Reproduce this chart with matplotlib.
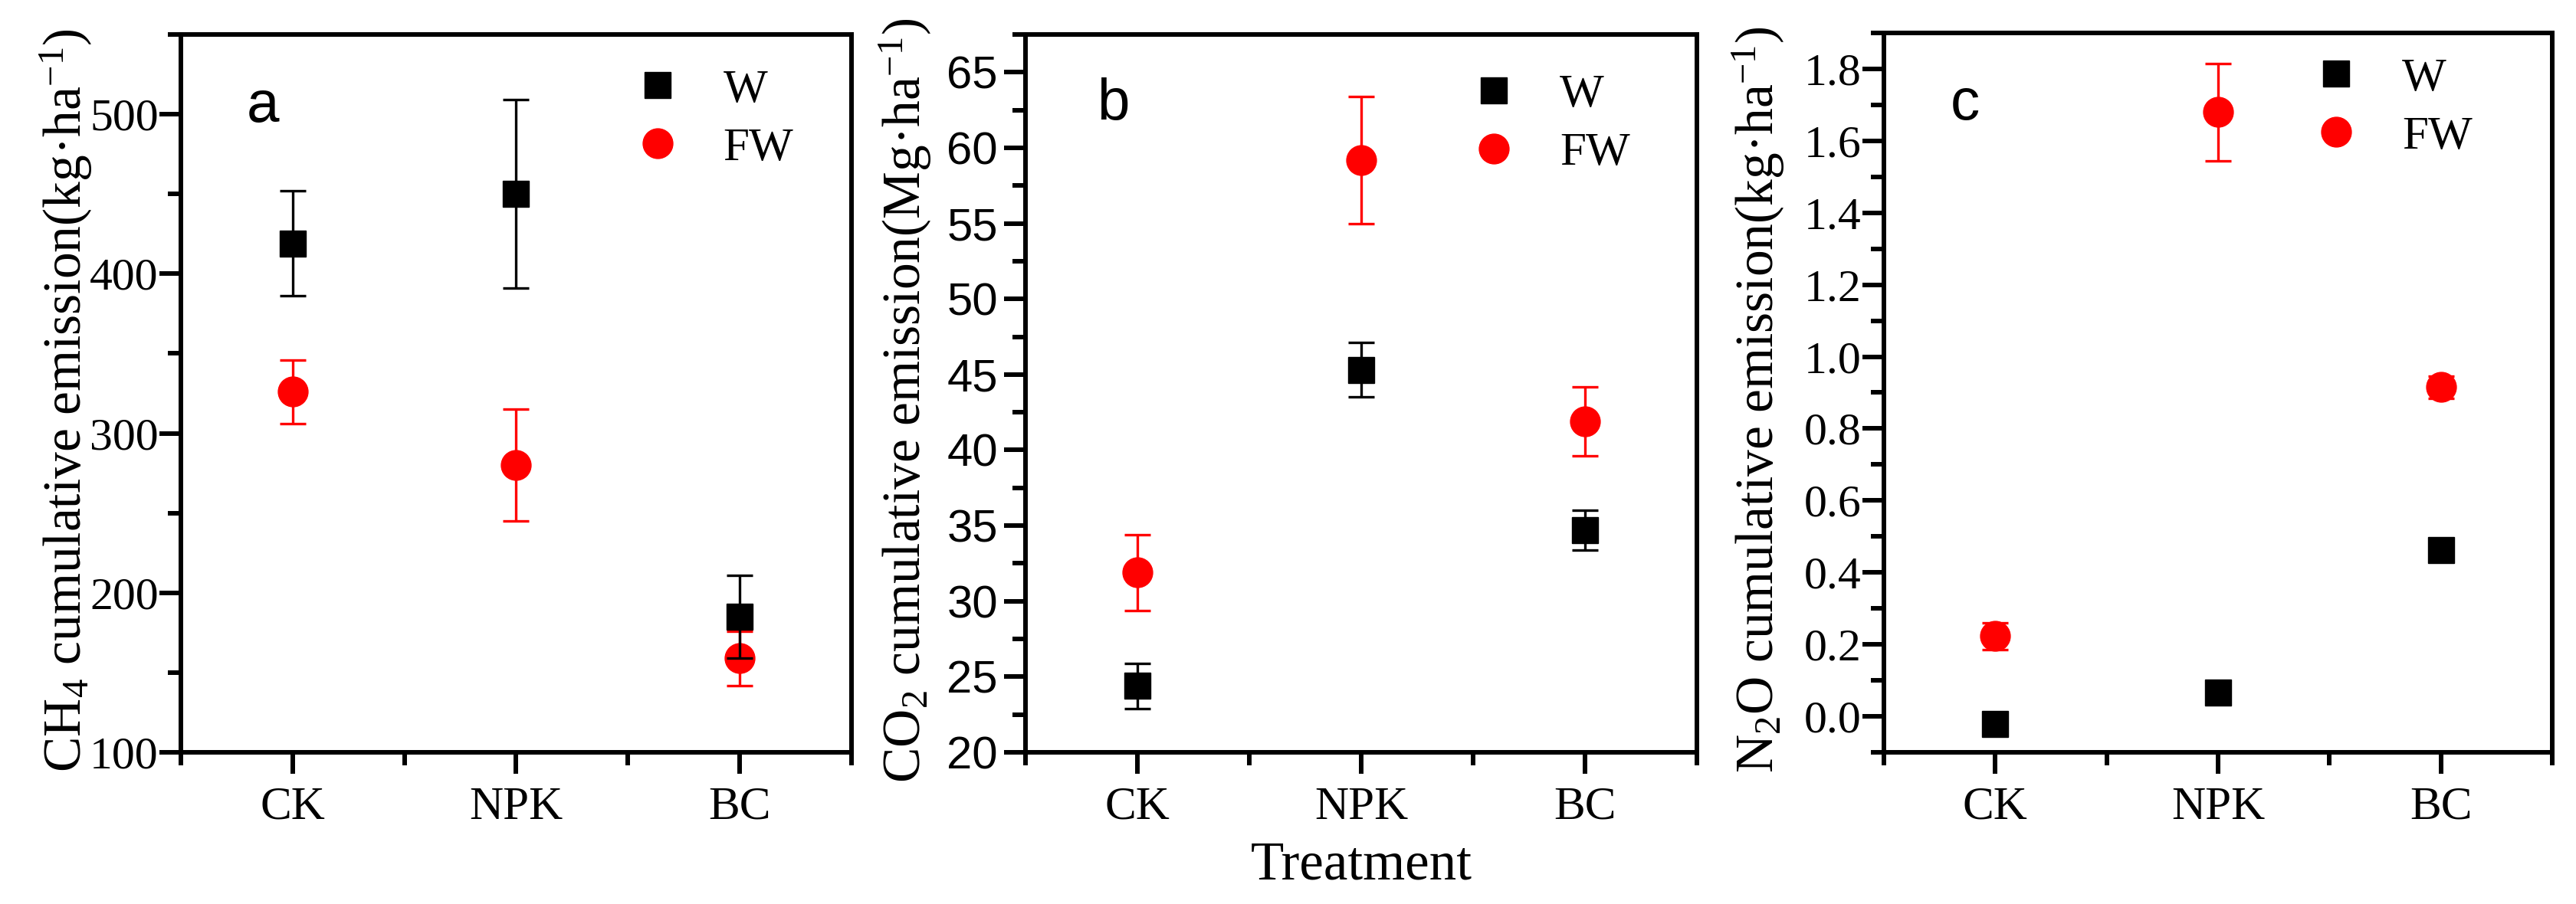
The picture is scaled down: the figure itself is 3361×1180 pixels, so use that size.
import matplotlib
matplotlib.use("Agg")
import matplotlib.pyplot as plt
from matplotlib.lines import Line2D
from matplotlib.ticker import MultipleLocator, FormatStrFormatter

# treatments on the x axis
treatments = ["CK", "NPK", "BC"]

# CH4 cumulative emission (kg ha-1)
ch4_w = [419, 450, 185]
ch4_w_err = [33, 59, 26]
ch4_fw = [326, 280, 159]
ch4_fw_err = [20, 35, 17]

# CO2 cumulative emission (Mg ha-1)
co2_w = [24.4, 45.3, 34.7]
co2_w_err = [1.5, 1.8, 1.3]
co2_fw = [31.9, 59.2, 41.9]
co2_fw_err = [2.5, 4.2, 2.3]

# N2O cumulative emission (kg ha-1)
n2o_w = [-0.021, 0.067, 0.462]
n2o_w_err = [0.01, 0.015, 0.02]
n2o_fw = [0.223, 1.68, 0.915]
n2o_fw_err = [0.038, 0.135, 0.03]

SERIF = "Liberation Serif"
SANS = "Liberation Sans"
RED = "#ff0000"
INK = "#000000"
LW = 4.3

plt.rcParams["font.family"] = [SERIF, "DejaVu Serif"]
plt.rcParams["mathtext.fontset"] = "custom"
plt.rcParams["mathtext.rm"] = SERIF
plt.rcParams["mathtext.it"] = SERIF + ":italic"
plt.rcParams["mathtext.bf"] = SERIF + ":bold"

fig = plt.figure(figsize=(33.62, 11.8), dpi=100)
W, H = 3362, 1180


def make_axes(left_px, right_px, top_px, bottom_px):
    return fig.add_axes([left_px / W, 1 - bottom_px / H,
                         (right_px - left_px) / W, (bottom_px - top_px) / H])


panels = [
    dict(ax=make_axes(236, 1111, 45, 982), w=ch4_w, we=ch4_w_err, fw=ch4_fw, fwe=ch4_fw_err,
         ylim=(100, 550), major=100, minor=50, fmt="%d", letter="a", letter_xy=(0.098, 0.878),
         ylabel="CH$_4$ cumulative emission(kg·ha$^{\\mathsf{-}1}$)", label_x=-0.129,
         leg=(0.676, 0.952), tickfont=SERIF, tickpad=1),
    dict(ax=make_axes(1338, 2214, 45, 982), w=co2_w, we=co2_w_err, fw=co2_fw, fwe=co2_fw_err,
         ylim=(20, 67.5), major=5, minor=2.5, fmt="%d", letter="b", letter_xy=(0.106, 0.882),
         ylabel="CO$_2$ cumulative emission(Mg·ha$^{\\mathsf{-}1}$)", label_x=-0.137,
         leg=(0.663, 0.945), tickfont=SANS, tickpad=6),
    dict(ax=make_axes(2458, 3330, 43, 982), w=n2o_w, we=n2o_w_err, fw=n2o_fw, fwe=n2o_fw_err,
         ylim=(-0.1, 1.9), major=0.2, minor=0.1, fmt="%.1f", letter="c", letter_xy=(0.099, 0.88),
         ylabel="N$_2$O cumulative emission(kg·ha$^{\\mathsf{-}1}$)", label_x=-0.146,
         leg=(0.642, 0.966), tickfont=SERIF, tickpad=1),
]
plt.rcParams["mathtext.sf"] = SERIF

x = [1, 2, 3]
for p in panels:
    ax = p["ax"]
    ax.errorbar(x, p["fw"], yerr=p["fwe"], fmt="o", ms=28, color=RED, ecolor=RED,
                elinewidth=2.4, capsize=12, capthick=2.4, zorder=2)
    ax.errorbar(x, p["w"], yerr=p["we"], fmt="s", ms=25, color=INK, ecolor=INK,
                elinewidth=2.4, capsize=12, capthick=2.4, zorder=3)

    ax.set_xlim(0.5, 3.5)
    ax.set_xticks(x)
    ax.set_xticklabels(treatments, fontsize=44, family=SERIF)
    ax.set_xticks([0.5, 1.5, 2.5, 3.5], minor=True)
    ax.set_ylim(*p["ylim"])
    ax.yaxis.set_major_locator(MultipleLocator(p["major"]))
    ax.yaxis.set_minor_locator(MultipleLocator(p["minor"]))
    ax.yaxis.set_major_formatter(FormatStrFormatter(p["fmt"]))

    for spine in ax.spines.values():
        spine.set_linewidth(LW)
    ax.tick_params(which="both", direction="out", width=LW, top=False, right=False)
    ax.tick_params(which="major", length=20)
    ax.tick_params(which="minor", length=12)
    ax.tick_params(axis="x", which="major", pad=12)
    ax.tick_params(axis="y", which="major", labelsize=43, pad=p["tickpad"])
    for lbl in ax.get_yticklabels():
        lbl.set_fontfamily(p["tickfont"])
        lbl.set_fontsize(43)

    ax.set_ylabel(p["ylabel"], fontsize=50)
    ax.yaxis.set_label_coords(p["label_x"], 0.49)

    ax.text(*p["letter_xy"], p["letter"], transform=ax.transAxes, fontsize=55,
            family=SANS, ha="left", va="baseline")

    handles = [Line2D([], [], ls="none", marker="s", ms=25, color=INK),
               Line2D([], [], ls="none", marker="o", ms=28, color=RED)]
    ax.legend(handles, ["W", "FW"], loc="upper left", bbox_to_anchor=p["leg"],
              frameon=False, fontsize=44, borderpad=0, borderaxespad=0,
              handlelength=1.0, handletextpad=0.9, labelspacing=0.33)

panels[1]["ax"].text(0.5, -0.177, "Treatment", transform=panels[1]["ax"].transAxes,
                     fontsize=51, ha="center", va="baseline")

fig.savefig("out.png", dpi=100, facecolor="white")
